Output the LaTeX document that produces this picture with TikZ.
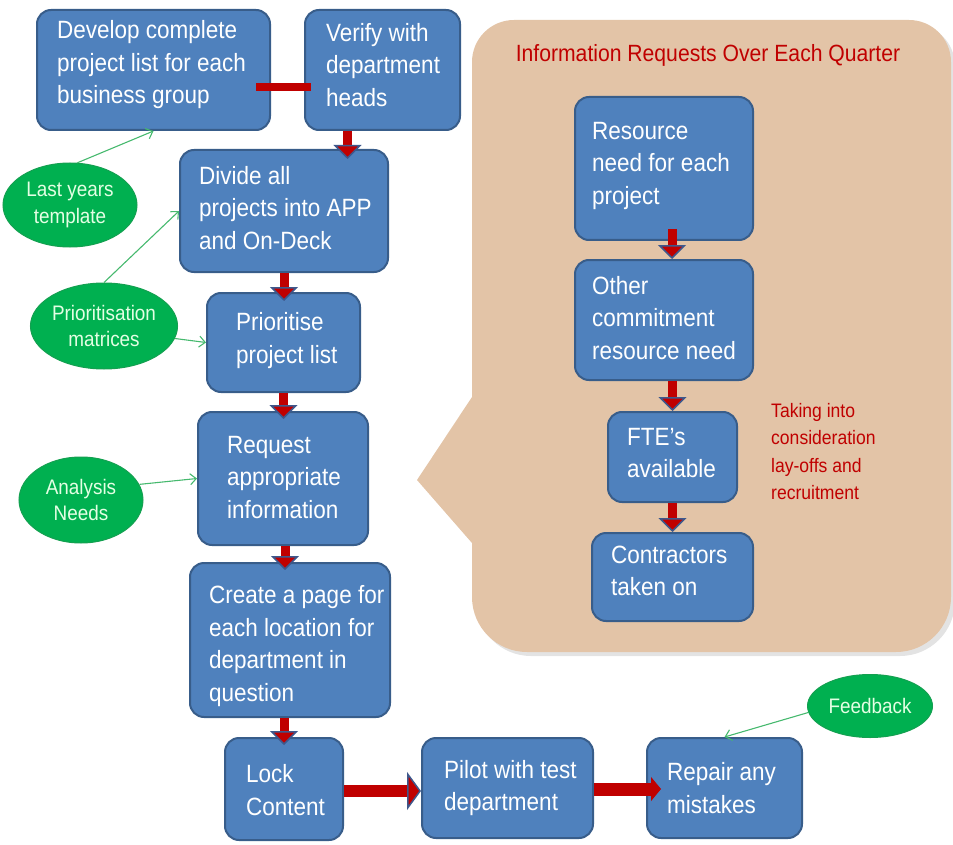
\documentclass[tikz,border=0pt]{standalone}
\usepackage{fontspec}
\setmainfont{Liberation Sans}[FakeStretch=0.9]
\usetikzlibrary{arrows.meta,shapes.geometric,shadows}

\definecolor{boxfill}{RGB}{79,129,189}
\definecolor{boxedge}{RGB}{56,93,138}
\definecolor{arrowred}{RGB}{192,0,0}
\definecolor{headedge}{RGB}{62,88,140}
\definecolor{calloutfill}{RGB}{227,196,167}
\definecolor{ovalfill}{RGB}{0,176,80}
\definecolor{ovaledge}{RGB}{20,160,80}
\definecolor{ovaltext}{RGB}{228,255,228}
\definecolor{linkgreen}{RGB}{70,185,110}
\definecolor{notered}{RGB}{192,0,0}

\tikzset{
  box/.style={draw=boxedge, line width=2pt, fill=boxfill, rounded corners=14pt, inner sep=0pt},
  btext/.style={text=white, align=left, inner sep=0pt, anchor=west,
    font=\fontsize{25}{32.5}\selectfont},
  oval/.style={ellipse, fill=ovalfill, draw=ovaledge, line width=1pt, text=ovaltext,
    align=center, inner sep=0pt, font=\fontsize{21}{26.5}\selectfont},
  link/.style={draw=linkgreen, line width=1.1pt, -{Straight Barb[length=6pt,width=11pt]}},
  down/.style={draw=arrowred, line width=9pt,
    -{Triangle[length=14pt,width=28pt,color=headedge,fill=arrowred,line width=1.5pt]}},
  across/.style={draw=arrowred, line width=12pt,
    -{Triangle[length=14pt,width=38pt,color=headedge,fill=arrowred,line width=1.5pt]}},
  acrossshort/.style={draw=arrowred, line width=13pt,
    -{Triangle[length=10pt,width=24pt,color=arrowred,fill=arrowred,line width=1pt]}},
  note/.style={text=notered, align=left, inner sep=0pt},
}

\begin{document}
\begin{tikzpicture}[x=1pt, y=-1pt]
\useasboundingbox (0,0) rectangle (953,845);

% speech-bubble panel with its pointer
\fill[calloutfill, drop shadow={opacity=0.22, shadow xshift=4pt, shadow yshift=-4pt}]
  (417,480) -- (472,397) [rounded corners=42pt] -- (472,20) -- (951,20)
  [rounded corners=55pt] -- (951,652) -- (472,652) [sharp corners] -- (472,543) -- cycle;

\node[note, font=\fontsize{23.5}{28}\selectfont] (title) at (708,55)
  {Information Requests Over Each Quarter};

% main flow
\node[box, minimum width=233pt, minimum height=120pt] (dev) at (153.5,70) {};
\node[btext] (dev-t) at ([xshift=21pt, yshift=5pt]dev.west)
  {Develop complete\\project list for each\\business group};

\node[box, minimum width=155pt, minimum height=120pt] (ver) at (382.5,70) {};
\node[btext] (ver-t) at ([xshift=22pt, yshift=5pt]ver.west)
  {Verify with\\department\\heads};

\node[box, minimum width=208pt, minimum height=122pt] (div) at (284,211) {};
\node[btext] (div-t) at ([xshift=20pt, yshift=3pt]div.west)
  {Divide all\\projects into APP\\and On-Deck};

\node[box, minimum width=153pt, minimum height=99pt] (pri) at (283.5,342.5) {};
\node[btext] (pri-t) at ([xshift=30pt, yshift=2pt]pri.west)
  {Prioritise\\project list};

\node[box, minimum width=170pt, minimum height=133pt] (req) at (283,478.5) {};
\node[btext] (req-t) at ([xshift=30pt, yshift=1pt]req.west)
  {Request\\appropriate\\information};

\node[box, minimum width=200pt, minimum height=154pt] (cre) at (290,640) {};
\node[btext] (cre-t) at ([xshift=20pt, yshift=-6pt]cre.west)
  {Create a page for\\each location for\\department in\\question};

\node[box, minimum width=118pt, minimum height=102pt] (lock) at (284,789) {};
\node[btext] (lock-t) at ([xshift=22pt, yshift=-1pt]lock.west)
  {Lock\\Content};

\node[box, minimum width=171pt, minimum height=100pt] (pil) at (507.5,788) {};
\node[btext] (pil-t) at ([xshift=23pt]pil.west)
  {Pilot with test\\department};

\node[box, minimum width=155pt, minimum height=100pt] (rep) at (724.5,788) {};
\node[btext] (rep-t) at ([xshift=21pt]rep.west)
  {Repair any\\mistakes};

% information requests inside the panel
\node[box, minimum width=178pt, minimum height=143pt] (res) at (664,168.5) {};
\node[btext] (res-t) at ([xshift=18pt, yshift=3pt]res.west)
  {Resource\\need for each\\project};

\node[box, minimum width=178pt, minimum height=120pt] (oth) at (664,320) {};
\node[btext] (oth-t) at ([xshift=18pt, yshift=2pt]oth.west)
  {Other\\commitment\\resource need};

\node[box, minimum width=129pt, minimum height=90pt] (fte) at (672.5,457) {};
\node[btext] (fte-t) at ([xshift=20pt, yshift=4pt]fte.west)
  {FTE’s\\available};

\node[box, minimum width=161pt, minimum height=88pt] (con) at (672.5,577) {};
\node[btext] (con-t) at ([xshift=20pt, yshift=6pt]con.west)
  {Contractors\\taken on};

\node[note, anchor=north west, font=\fontsize{19.5}{27.5}\selectfont] (cons) at (771,403)
  {Taking into\\consideration\\lay-offs and\\recruitment};

% inputs
\node[oval, minimum width=134pt, minimum height=84pt] (ly) at (70,205) {Last years\\template};
\node[oval, minimum width=136pt, minimum height=86pt] (pm) at (104,326) {Prioritisation\\matrices};
\node[oval, minimum width=124pt, minimum height=86pt] (an) at (81,500) {Analysis\\Needs};
\node[oval, minimum width=125pt, minimum height=63pt] (fb) at (870,706) {Feedback};

\draw[link] (ly.80) -- (dev.south);
\draw[link] (pm.90) -- (div.west);
\draw[link] (pm.-10) -- (pri.west);
\draw[link] (an.15) -- (req.west);
\draw[link] (fb.186) -- (rep.north);

% flow arrows
\draw[arrowred, line width=8pt, shorten <=-15pt, shorten >=-7pt]
  ([yshift=-17pt]dev.east) -- ([yshift=-17pt]ver.west);
\draw[down, shorten >=-10pt] ([xshift=-35pt]ver.south) -- ([xshift=-35pt]ver.south |- div.north);
\draw[down, shorten >=-9pt] (div.south) -- (div.south |- pri.north);
\draw[down, shorten >=-8pt] (pri.south) -- (pri.south |- req.north);
\draw[down, shorten >=-8pt] ([xshift=2pt]req.south) -- ([xshift=2pt]req.south |- cre.north);
\draw[down, shorten >=-8pt] (cre.south -| lock.north) -- (lock.north);
\draw[across] ([yshift=-2pt]lock.east) -- ([yshift=-2pt]lock.east -| pil.west);
\draw[acrossshort, shorten >=-15pt] ([yshift=-1pt]pil.east) -- ([yshift=-1pt]pil.east -| rep.west);

\draw[down, shorten <=-12pt] ([xshift=8pt]res.south) -- ([xshift=8pt]res.south |- oth.north);
\draw[down] (fte.north |- oth.south) -- (fte.north);
\draw[down] (fte.south) -- (con.north);
\end{tikzpicture}
\end{document}
